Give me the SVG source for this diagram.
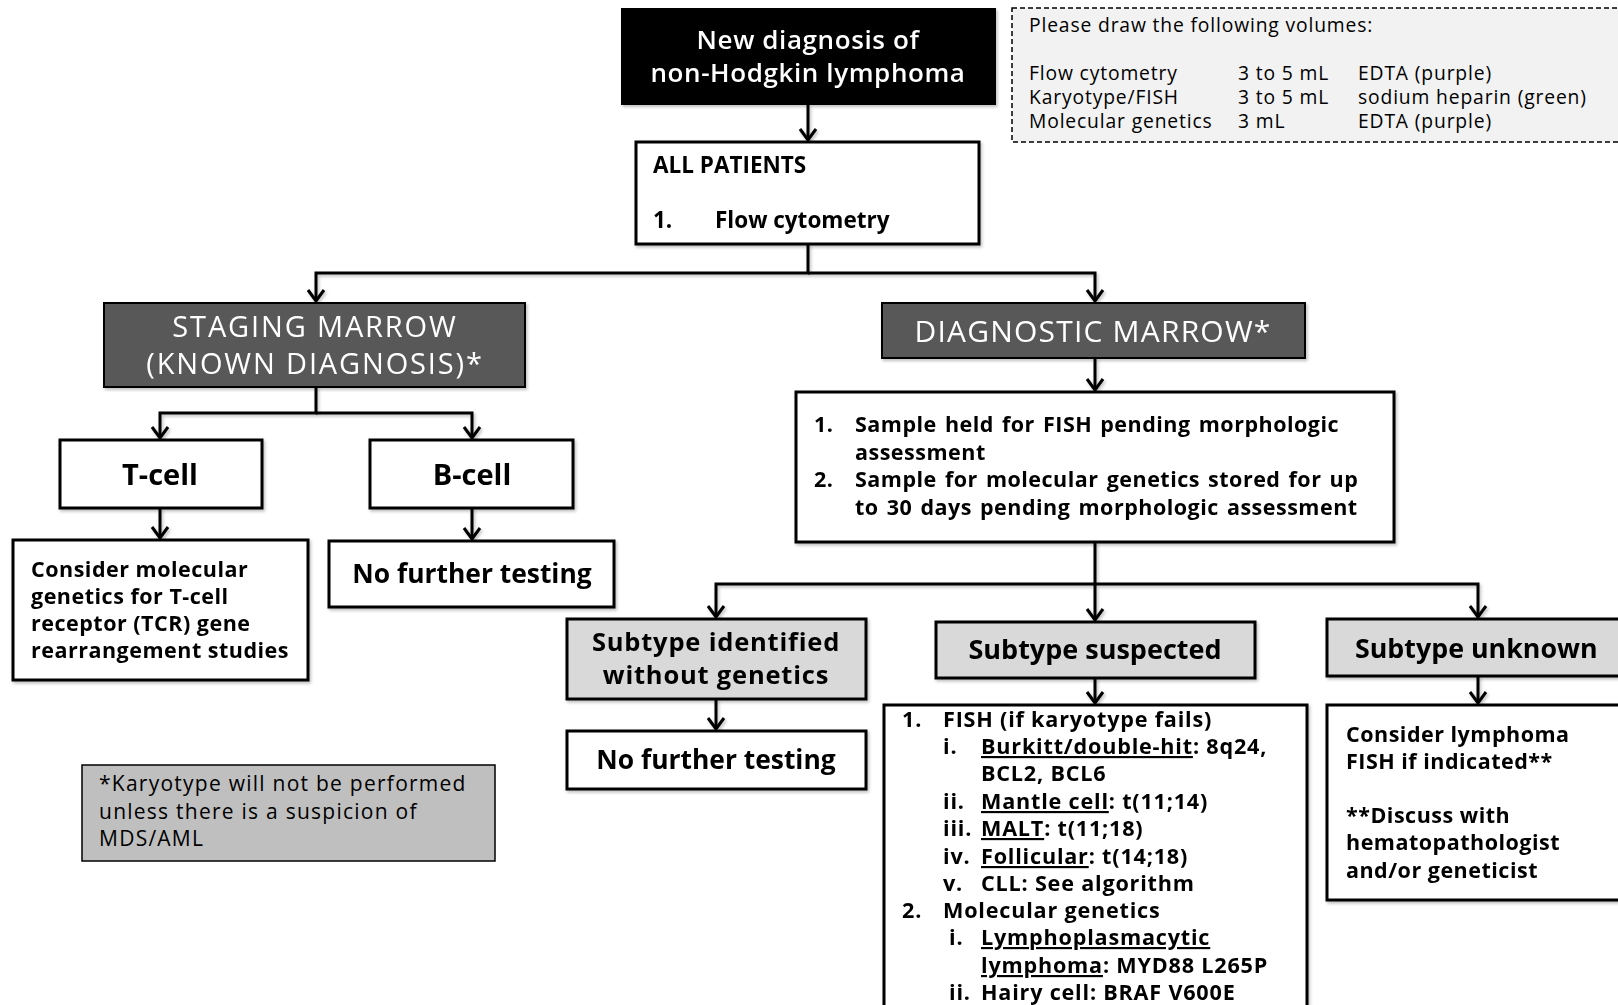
<svg xmlns="http://www.w3.org/2000/svg" width="1618" height="1005" viewBox="0 0 1618 1005">
  <defs>
    <marker id="chev" markerUnits="userSpaceOnUse" markerWidth="20" markerHeight="20" refX="0" refY="0" orient="auto" overflow="visible">
      <path d="M-11,-8 L0,0 L-11,8" fill="none" stroke="#000" stroke-width="3" stroke-linejoin="miter"/>
    </marker>
    <filter id="shadow" x="-5%" y="-5%" width="115%" height="125%">
      <feDropShadow dx="1.5" dy="2" stdDeviation="1.5" flood-color="#000" flood-opacity="0.25"/>
    </filter>
  </defs>
  <style>
    .box { fill: #fff; stroke: #000; stroke-width: 3; }
    .grey { fill: #d9d9d9; stroke: #000; stroke-width: 3; }
    .dark { fill: #595959; stroke: #000; stroke-width: 2; }
    .bold { font-family: "Open Sans", "Noto Sans", sans-serif; font-weight: 700; fill: #000; }
    .reg { font-family: "Open Sans", "Noto Sans", sans-serif; font-weight: 400; fill: #000; }
    .sans { font-family: "Open Sans", "Noto Sans", sans-serif; }
    .body { font-size: 21.5px; letter-spacing: 0.5px; }
    .conn path { fill: none; stroke: #000; stroke-width: 3; marker-end: url(#chev); }
    .u { text-decoration: underline; }
  </style>

  <rect width="1618" height="1005" fill="#fff"/>

  <!-- connectors -->
  <g id="connectors" class="conn" filter="url(#shadow)">
    <path d="M808,105 V140"/>
    <path d="M808,244 V273 H316 V301"/>
    <path d="M808,273 H1095 V301"/>
    <path d="M316,387 V413 H160 V438"/>
    <path d="M316,413 H472 V438"/>
    <path d="M160,508 V538"/>
    <path d="M472,508 V539"/>
    <path d="M1095,358 V390"/>
    <path d="M1095,542 V584 H716 V617"/>
    <path d="M1095,584 H1478 V617"/>
    <path d="M1095,584 V620"/>
    <path d="M716,699 V729"/>
    <path d="M1095,678 V703"/>
    <path d="M1478,676 V703"/>
  </g>

  <!-- start node -->
  <g id="new-diagnosis" filter="url(#shadow)">
    <rect x="621" y="8" width="375" height="97" fill="#000"/>
    <g class="sans" font-size="26" font-weight="600" fill="#fff" text-anchor="middle" letter-spacing="0.6">
      <text x="808" y="49">New diagnosis of</text>
      <text x="808" y="82">non-Hodgkin lymphoma</text>
    </g>
  </g>

  <!-- blood volume note -->
  <g id="volumes-note">
    <rect x="1012" y="8" width="640" height="134" fill="#f2f2f2" stroke="#000" stroke-width="1.5" stroke-dasharray="5,3"/>
    <g class="reg" font-size="19.3" letter-spacing="0.85">
      <text x="1029" y="32">Please draw the following volumes:</text>
      <text x="1029" y="80">Flow cytometry</text>
      <text x="1238" y="80">3 to 5 mL</text>
      <text x="1358" y="80">EDTA (purple)</text>
      <text x="1029" y="104">Karyotype/FISH</text>
      <text x="1238" y="104">3 to 5 mL</text>
      <text x="1358" y="104">sodium heparin (green)</text>
      <text x="1029" y="128">Molecular genetics</text>
      <text x="1238" y="128">3 mL</text>
      <text x="1358" y="128">EDTA (purple)</text>
    </g>
  </g>

  <!-- all patients -->
  <g id="all-patients" filter="url(#shadow)">
    <rect class="box" x="636" y="142" width="343" height="102"/>
    <g class="bold" font-size="22.5">
      <text x="653" y="173">ALL PATIENTS</text>
      <text x="653" y="228">1.</text>
      <text x="715" y="228">Flow cytometry</text>
    </g>
  </g>

  <!-- staging marrow branch -->
  <g id="staging-marrow" filter="url(#shadow)">
    <rect class="dark" x="104" y="303" width="421" height="84"/>
    <g class="sans" font-size="29" fill="#fff" text-anchor="middle" letter-spacing="1.85">
      <text x="315" y="337">STAGING MARROW</text>
      <text x="315" y="374">(KNOWN DIAGNOSIS)*</text>
    </g>
  </g>

  <g id="t-cell" filter="url(#shadow)">
    <rect class="box" x="60" y="440" width="202" height="68"/>
    <text class="bold" x="160" y="485" font-size="29" text-anchor="middle">T-cell</text>
  </g>

  <g id="b-cell" filter="url(#shadow)">
    <rect class="box" x="370" y="440" width="203" height="68"/>
    <text class="bold" x="472" y="485" font-size="29" text-anchor="middle">B-cell</text>
  </g>

  <g id="t-cell-molecular" filter="url(#shadow)">
    <rect class="box" x="13" y="540" width="295" height="140"/>
    <g class="bold body">
      <text x="31" y="577">Consider molecular</text>
      <text x="31" y="604">genetics for T-cell</text>
      <text x="31" y="631">receptor (TCR) gene</text>
      <text x="31" y="658">rearrangement studies</text>
    </g>
  </g>

  <g id="b-cell-no-further" filter="url(#shadow)">
    <rect class="box" x="329" y="541" width="285" height="66"/>
    <text class="bold" x="472" y="583" font-size="26.4" text-anchor="middle">No further testing</text>
  </g>

  <!-- diagnostic marrow branch -->
  <g id="diagnostic-marrow" filter="url(#shadow)">
    <rect class="dark" x="882" y="303" width="423" height="55"/>
    <text class="sans" x="1093" y="342" font-size="30" fill="#fff" text-anchor="middle" letter-spacing="1.2">DIAGNOSTIC MARROW*</text>
  </g>

  <g id="sample-handling" filter="url(#shadow)">
    <rect class="box" x="796" y="392" width="598" height="150"/>
    <g class="bold body" word-spacing="2">
      <text x="814" y="432">1.</text>
      <text x="855" y="432">Sample held for FISH pending morphologic</text>
      <text x="855" y="460">assessment</text>
      <text x="814" y="487">2.</text>
      <text x="855" y="487">Sample for molecular genetics stored for up</text>
      <text x="855" y="515">to 30 days pending morphologic assessment</text>
    </g>
  </g>

  <g id="subtype-identified" filter="url(#shadow)">
    <rect class="grey" x="567" y="619" width="299" height="80"/>
    <g class="bold" font-size="25.5" text-anchor="middle" letter-spacing="0.8">
      <text x="716" y="651">Subtype identified</text>
      <text x="716" y="684">without genetics</text>
    </g>
  </g>

  <g id="identified-no-further" filter="url(#shadow)">
    <rect class="box" x="567" y="731" width="299" height="58"/>
    <text class="bold" x="716" y="769" font-size="26.4" text-anchor="middle">No further testing</text>
  </g>

  <g id="subtype-suspected" filter="url(#shadow)">
    <rect class="grey" x="936" y="622" width="319" height="56"/>
    <text class="bold" x="1095" y="659" font-size="27" text-anchor="middle">Subtype suspected</text>
  </g>

  <g id="suspected-tests" filter="url(#shadow)">
    <rect class="box" x="884" y="705" width="423" height="320"/>
    <g class="bold" font-size="21.6" letter-spacing="0.8">
      <text x="902" y="727">1.</text>
      <text x="943" y="727">FISH (if karyotype fails)</text>
      <text x="943" y="754">i.</text>
      <text x="981" y="754"><tspan class="u">Burkitt/double-hit</tspan>: 8q24,</text>
      <text x="981" y="781">BCL2, BCL6</text>
      <text x="943" y="809">ii.</text>
      <text x="981" y="809"><tspan class="u">Mantle cell</tspan>: t(11;14)</text>
      <text x="943" y="836">iii.</text>
      <text x="981" y="836"><tspan class="u">MALT</tspan>: t(11;18)</text>
      <text x="943" y="864">iv.</text>
      <text x="981" y="864"><tspan class="u">Follicular</tspan>: t(14;18)</text>
      <text x="943" y="891">v.</text>
      <text x="981" y="891">CLL: See algorithm</text>
      <text x="902" y="918">2.</text>
      <text x="943" y="918">Molecular genetics</text>
      <text x="949" y="945">i.</text>
      <text x="981" y="945"><tspan class="u">Lymphoplasmacytic</tspan></text>
      <text x="981" y="973"><tspan class="u">lymphoma</tspan>: MYD88 L265P</text>
      <text x="949" y="1000">ii.</text>
      <text x="981" y="1000">Hairy cell: BRAF V600E</text>
    </g>
  </g>

  <g id="subtype-unknown" filter="url(#shadow)">
    <rect class="grey" x="1327" y="619" width="320" height="57"/>
    <text class="bold" x="1355" y="658" font-size="26.8">Subtype unknown</text>
  </g>

  <g id="unknown-fish" filter="url(#shadow)">
    <rect class="box" x="1327" y="705" width="320" height="195"/>
    <g class="bold body">
      <text x="1346" y="742">Consider lymphoma</text>
      <text x="1346" y="769">FISH if indicated**</text>
      <text x="1346" y="823">**Discuss with</text>
      <text x="1346" y="850">hematopathologist</text>
      <text x="1346" y="878">and/or geneticist</text>
    </g>
  </g>

  <!-- footnote -->
  <g id="karyotype-note">
    <rect x="82" y="765" width="413" height="96" fill="#bfbfbf" stroke="#000" stroke-width="1.5"/>
    <g class="sans" font-size="21" fill="#000" letter-spacing="1.25">
      <text x="99" y="791">*Karyotype will not be performed</text>
      <text x="99" y="819">unless there is a suspicion of</text>
      <text x="99" y="846">MDS/AML</text>
    </g>
  </g>
</svg>
